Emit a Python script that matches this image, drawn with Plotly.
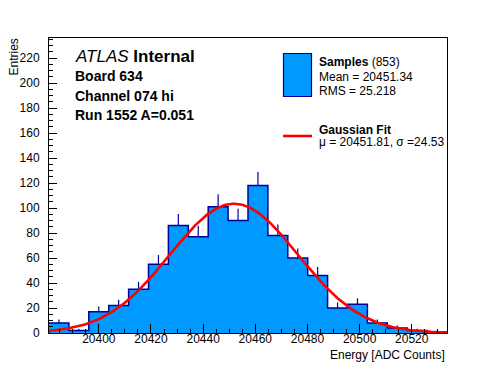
import numpy as np
import plotly.graph_objects as go

# ---------------- data ----------------
BIN_LO = 20380.9
BIN_HI = 20533.5
COUNTS = [8, 2, 17, 22, 35, 55, 86, 77, 101, 90, 118, 78, 60, 46, 20, 23, 8, 4, 2, 1]
FIT_MU = 20451.81
FIT_SIGMA = 24.53
FIT_AMP = 103.5
N_ENTRIES = 853
MEAN = "20451.34"
RMS = "25.218"
Y_MAX = 236.2
X_TICKS = [20400, 20420, 20440, 20460, 20480, 20500, 20520]
Y_TICKS = [0, 20, 40, 60, 80, 100, 120, 140, 160, 180, 200, 220]

FILL = "#0099FF"
EDGE = "#000099"
FONT = "Liberation Sans, Arial, Helvetica, sans-serif"

counts = np.array(COUNTS, dtype=float)
nb = len(COUNTS)
edges = np.linspace(BIN_LO, BIN_HI, nb + 1)
centers = 0.5 * (edges[:-1] + edges[1:])
errs = np.sqrt(counts)

fig = go.Figure()

# filled step histogram
fig.add_trace(go.Scatter(
    x=list(edges), y=list(counts) + [counts[-1]],
    mode="lines", line=dict(shape="hv", color=EDGE, width=1.5),
    fill="tozeroy", fillcolor=FILL, hoverinfo="skip", showlegend=False))

# error bars (upper part visible)
fig.add_trace(go.Scatter(
    x=centers, y=counts, mode="markers",
    marker=dict(size=1, color="rgba(0,0,0,0)"),
    error_y=dict(type="data", symmetric=False, array=errs,
                 arrayminus=np.zeros(nb), width=0, thickness=1.2, color=EDGE),
    hoverinfo="skip", showlegend=False))

# gaussian fit curve
xf = np.linspace(BIN_LO, BIN_HI, 300)
yf = FIT_AMP * np.exp(-0.5 * ((xf - FIT_MU) / FIT_SIGMA) ** 2)
fig.add_trace(go.Scatter(x=xf, y=yf, mode="lines",
                         line=dict(color="#FF0000", width=2.6),
                         hoverinfo="skip", showlegend=False))

# ---------------- layout helpers ----------------
W, H = 496, 372
L, R, T, B = 49, 49, 38, 39
PW, PH = W - L - R, H - T - B


def px(x):
    return (x - L) / PW


def py(y):
    return (H - B - y) / PH


annotations = []


def txt(text, x, y, size, xanchor="left", **kw):
    annotations.append(dict(text=text, x=px(x), y=py(y), xref="paper", yref="paper",
                            xanchor=xanchor, yanchor="middle", showarrow=False,
                            font=dict(family=FONT, size=size, color="black"), **kw))


txt("<i>ATLAS</i> <b>Internal</b>", 73, 56, 17)
txt("<b>Board 634</b>", 73, 76, 14)
txt("<b>Channel 074 hi</b>", 73, 95.5, 14)
txt("<b>Run 1552 A=0.051</b>", 73, 114.5, 14)

txt(f"<b>Samples</b> ({N_ENTRIES})", 316.5, 62, 12)
txt(f"Mean = {MEAN}", 316.5, 76.5, 12)
txt(f"RMS = {RMS}", 316.5, 90.5, 12)
txt("<b>Gaussian Fit</b>", 316.5, 129.5, 12)
txt(f"\u03bc = {FIT_MU:.2f}, \u03c3 ={FIT_SIGMA:.2f}", 316.5, 142, 12)

txt("Energy [ADC Counts]", 447, 355, 12, xanchor="right")
annotations.append(dict(text="Entries", x=px(13), y=py(37), xref="paper", yref="paper",
                        xanchor="center", yanchor="top", showarrow=False, textangle=-90,
                        font=dict(family=FONT, size=12, color="black")))

shapes = [
    dict(type="rect", xref="paper", yref="paper", x0=px(283.5), x1=px(311.5),
         y0=py(96.5), y1=py(53.5), fillcolor=FILL, line=dict(color=EDGE, width=1.2)),
    dict(type="line", xref="paper", yref="paper", x0=px(283), x1=px(312),
         y0=py(136), y1=py(136), line=dict(color="#FF0000", width=2.6)),
]

axis_common = dict(showline=True, linecolor="black", linewidth=1, mirror=True,
                   showgrid=False, zeroline=False, ticks="inside", tickcolor="black",
                   tickwidth=1, tickfont=dict(family=FONT, size=12, color="black"),
                   layer="above traces")

fig.update_layout(
    width=W, height=H, margin=dict(l=L, r=R, t=T, b=B, pad=0),
    paper_bgcolor="white", plot_bgcolor="white",
    xaxis=dict(range=[BIN_LO, BIN_HI], tickmode="array", tickvals=X_TICKS,
               tickformat="d", ticklen=9, ticklabelstandoff=-5,
               minor=dict(ticks="inside", dtick=5, tick0=20400, ticklen=4,
                          tickcolor="black", showgrid=False),
               **axis_common),
    yaxis=dict(range=[0, Y_MAX], tickmode="array", tickvals=Y_TICKS,
               tickformat="d", ticklen=8, ticklabelstandoff=6,
               minor=dict(ticks="inside", dtick=5, tick0=0, ticklen=4,
                          tickcolor="black", showgrid=False),
               **axis_common),
    annotations=annotations, shapes=shapes, showlegend=False,
)

fig.write_html("out.html", config={"displayModeBar": False},
               post_script="document.body.style.margin='0';document.body.style.overflow='hidden';")
